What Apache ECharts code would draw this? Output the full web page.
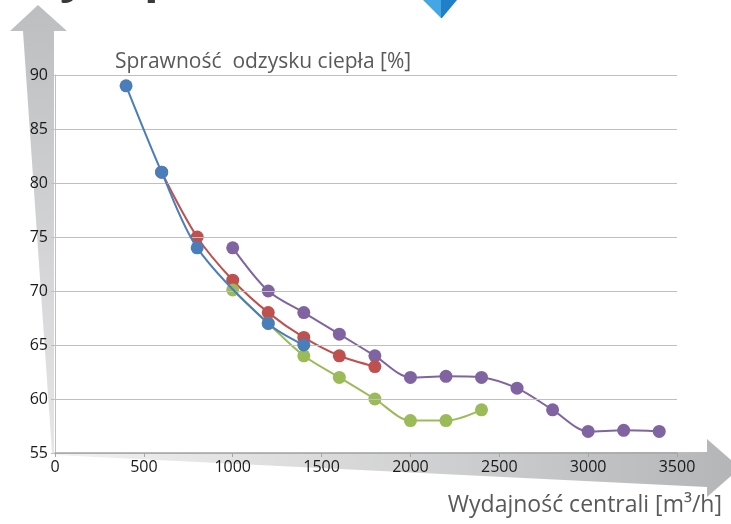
<!DOCTYPE html>
<html><head><meta charset="utf-8">
<script src="https://cdn.jsdelivr.net/npm/echarts@6/dist/echarts.min.js"></script>
<style>html,body{margin:0;padding:0;background:#fff}#c{width:731px;height:524px}</style>
</head><body><div id="c"></div>
<script>
const xTicks=[0,500,1000,1500,2000,2500,3000,3500];
const yTicks=[55,60,65,70,75,80,85,90];
const xsBlue=[400,600,800,1200,1400];
const ysBlue=[89,81,74,67,65];
const xsRed=[600,800,1000,1200,1400,1600,1800];
const ysRed=[81,75,71,68,65.7,64,63];
const xsGreen=[1000,1200,1400,1600,1800,2000,2200,2400];
const ysGreen=[70.1,67,64,62,60,58,58,59];
const xsPurple=[1000,1200,1400,1600,1800,2000,2200,2400,2600,2800,3000,3200,3400];
const ysPurple=[74,70,68,66,64,62,62.1,62,61,59,57,57.1,57];
const yTitle='Sprawność  odzysku ciepła [%]';
const xTitle='Wydajność centrali [m³/h]';

const pairs=(xs,ys)=>xs.map((x,i)=>[x,ys[i]]);
const mk=(name,xs,ys,color,z)=>({name,type:'line',data:pairs(xs,ys),smooth:0.3,
  symbol:'circle',symbolSize:13,z:z,
  lineStyle:{color,width:2},itemStyle:{color}});

const chart=echarts.init(document.getElementById('c'));
const font="'Open Sans', sans-serif";
chart.setOption({
  animation:false,
  grid:{left:55,right:54,top:75,bottom:71},
  xAxis:{type:'value',min:xTicks[0],max:xTicks[xTicks.length-1],interval:500,z:5,
    axisLine:{show:true,lineStyle:{color:'#a6a6a6',width:1.5}},
    axisTick:{show:true,length:4,lineStyle:{color:'#a6a6a6'}},
    splitLine:{show:false},
    axisLabel:{color:'#1a1a1a',fontSize:16,fontFamily:font,margin:6,formatter:v=>String(v)}},
  yAxis:{type:'value',min:yTicks[0],max:yTicks[yTicks.length-1],interval:5,z:5,
    axisLine:{show:true,lineStyle:{color:'#bfbfbf'}},
    axisTick:{show:true,length:4,lineStyle:{color:'#bfbfbf'}},
    splitLine:{show:true,lineStyle:{color:'#bfbfbf',width:1}},
    axisLabel:{color:'#1a1a1a',fontSize:16,fontFamily:font,margin:7,formatter:v=>String(v)}},
  series:[
    mk('purple',xsPurple,ysPurple,'#8064a2',2),
    mk('red',xsRed,ysRed,'#c0504d',3),
    mk('green',xsGreen,ysGreen,'#9bbb59',4),
    mk('blue',xsBlue,ysBlue,'#4a7ebb',5)
  ],
  graphic:[
    {type:'polygon',z:-10,shape:{points:[[38,5],[67,31],[54,31],[54,453],[52,453],[23,31],[10,31]]},
      style:{fill:new echarts.graphic.LinearGradient(0,0,0,1,[{offset:0,color:'#bdbec0'},{offset:1,color:'#e6e6e7'}])}},
    {type:'polygon',z:-10,shape:{points:[[55,453],[707,452],[707,439],[740,468],[707,497],[707,487],[55,455]]},
      style:{fill:new echarts.graphic.LinearGradient(0,0,1,0,[{offset:0,color:'#f2f2f2'},{offset:1,color:'#b4b5b7'}])}},
    {type:'polygon',z:-10,shape:{points:[[423,0],[441,0],[441,18]]},style:{fill:'#45a6e6'}},
    {type:'polygon',z:-10,shape:{points:[[441,0],[457,0],[442,18],[441,18]]},style:{fill:'#1f7fc9'}},
    {type:'text',z:10,style:{text:'y',x:60,y:-47,fill:'#3a3a3a',font:"bold 48px 'Open Sans', sans-serif"}},
    {type:'text',z:10,style:{text:'p',x:144,y:-47,fill:'#3a3a3a',font:"bold 48px 'Open Sans', sans-serif"}},
    {type:'text',z:10,style:{text:yTitle,x:115,y:52,fill:'#595959',font:"21px 'Open Sans', sans-serif"}},
    {type:'text',z:10,style:{text:xTitle,x:722,y:494,align:'right',fill:'#595959',font:"23px 'Open Sans', sans-serif"}}
  ]
});
</script></body></html>
